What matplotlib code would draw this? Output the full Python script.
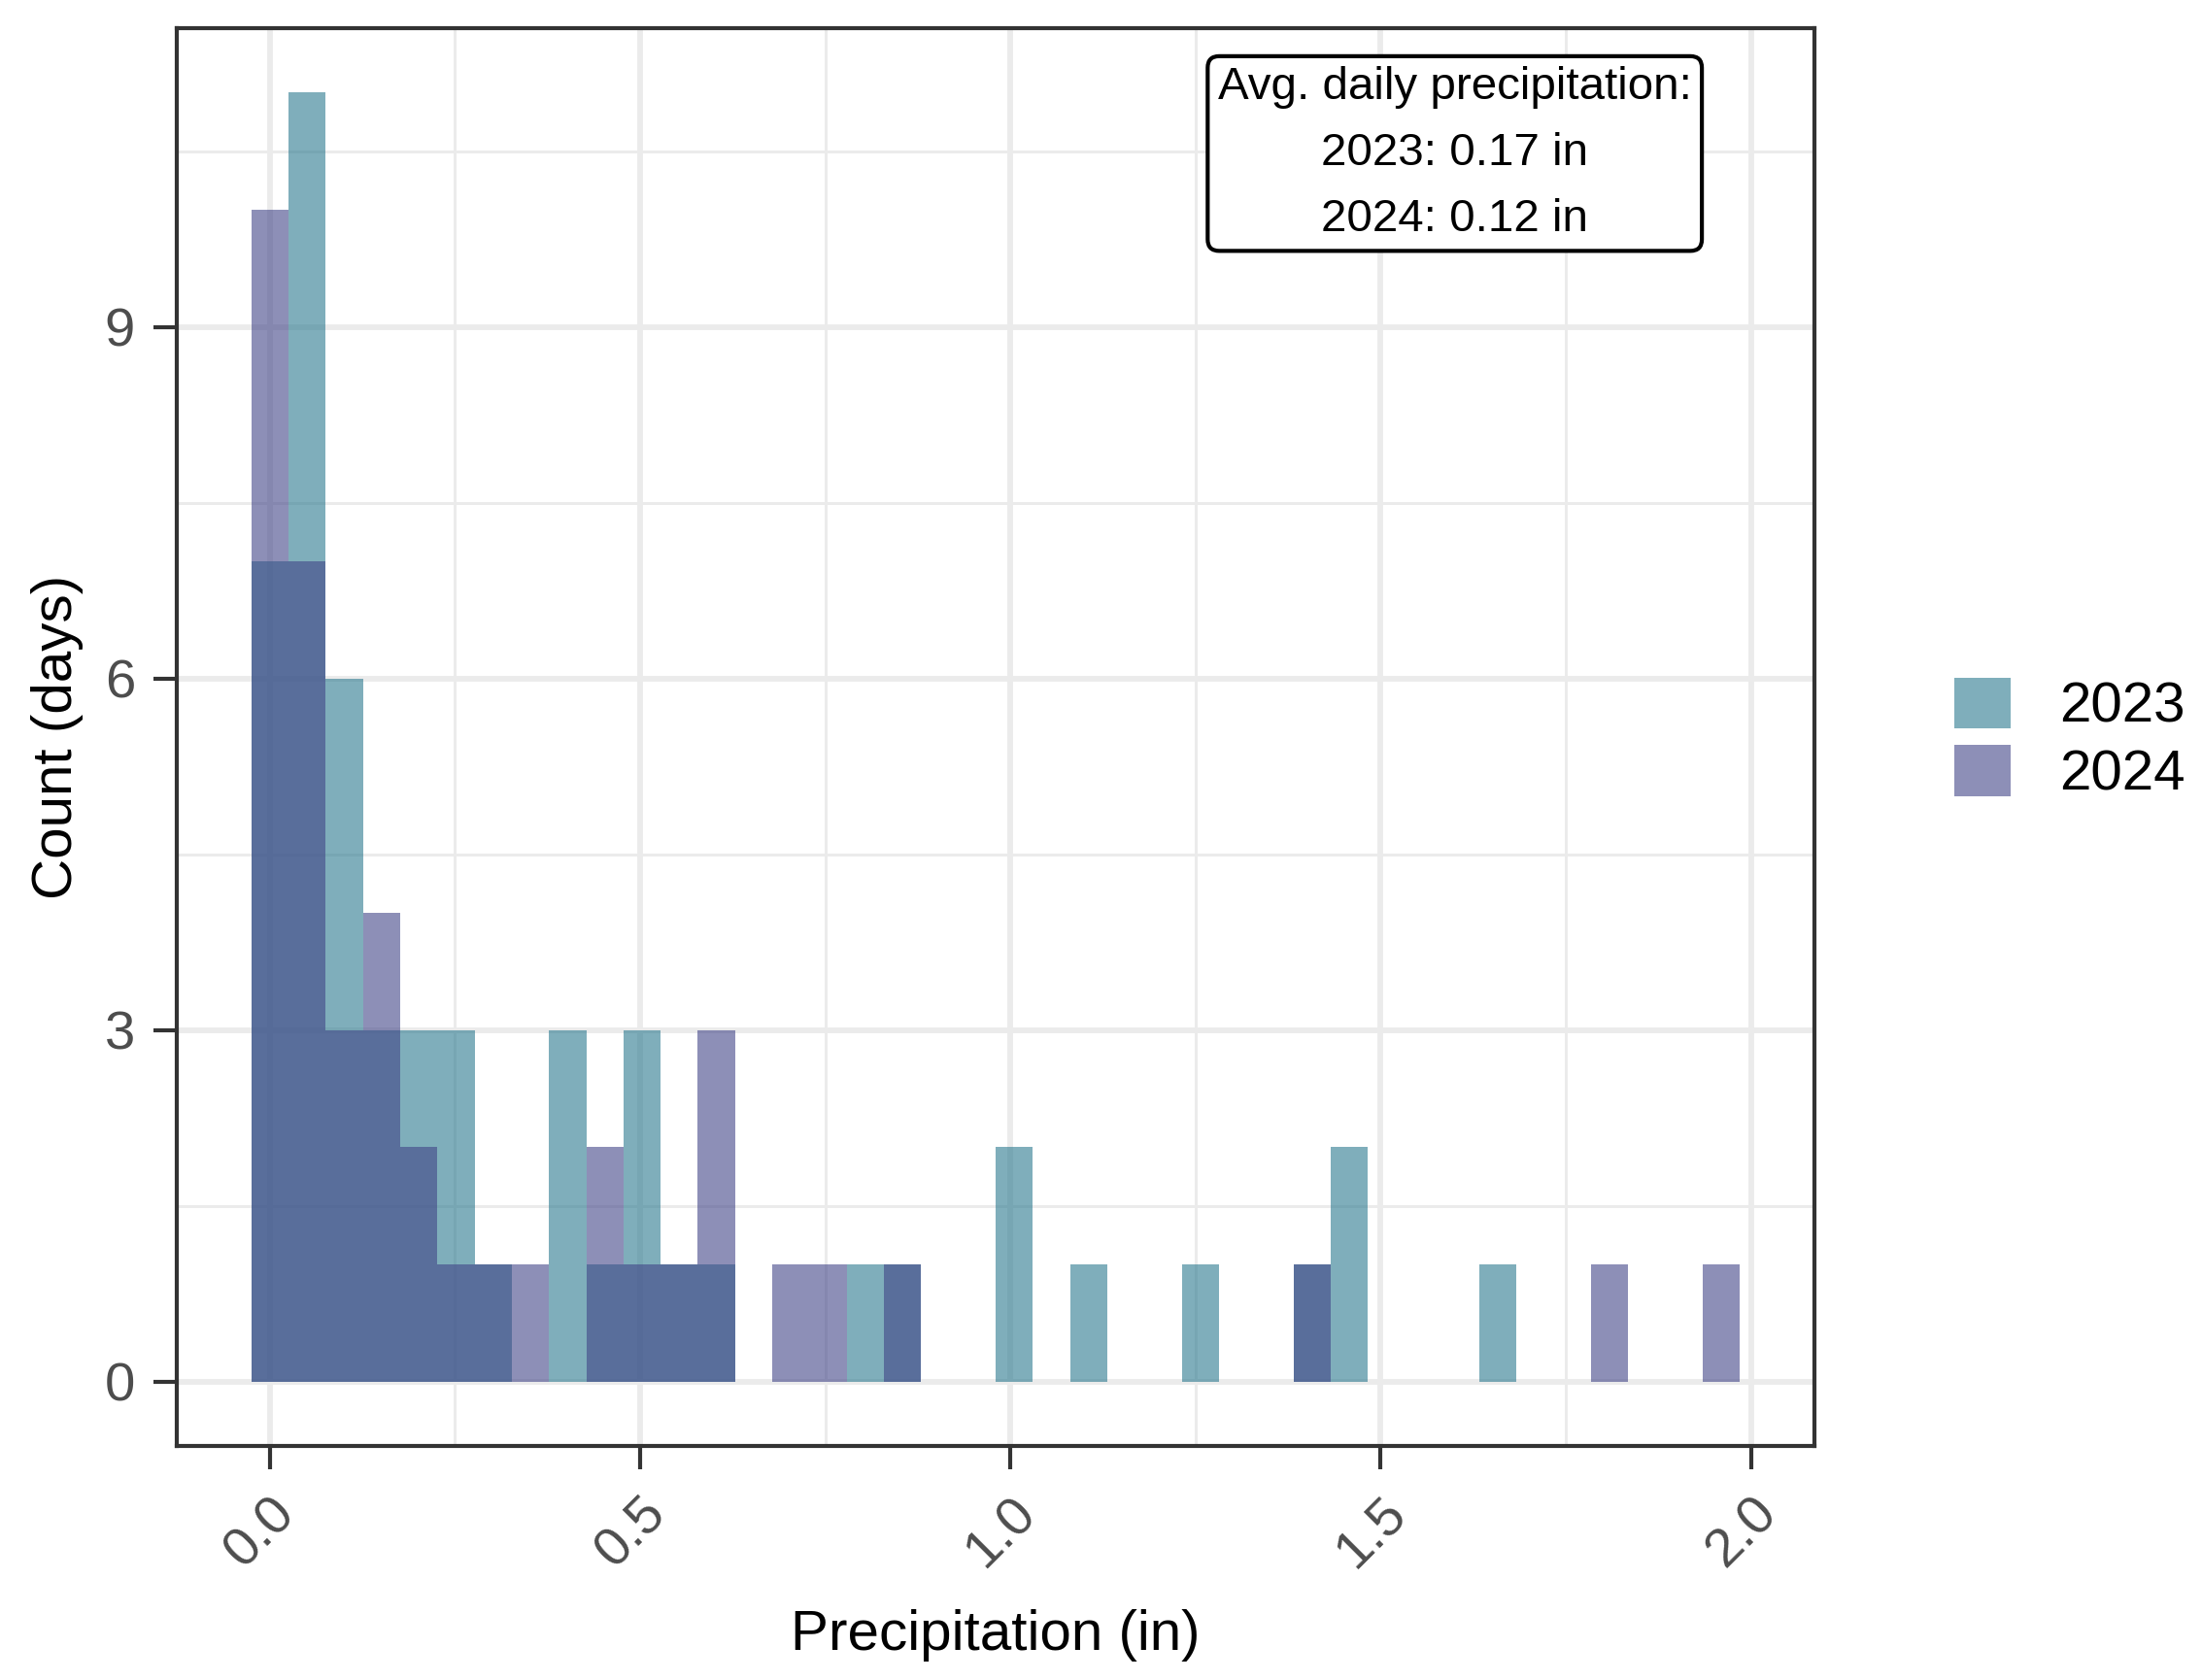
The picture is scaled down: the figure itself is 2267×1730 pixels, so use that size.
import numpy as np
import matplotlib
matplotlib.use("Agg")
import matplotlib.pyplot as plt
from matplotlib.patches import Patch

plt.rcParams['font.family'] = ['Liberation Sans', 'DejaVu Sans']

# ---- data (counts per histogram bin, 40 bins spanning 0 .. 1.96 in) ----
years = ["2023", "2024"]
n_bins = 40
precip_min = 0.0
precip_max = 1.96
counts_2023 = [7, 11, 6, 3, 3, 3, 1, 0, 3, 1,
               3, 1, 1, 0, 0, 0, 1, 1, 0, 0,
               2, 0, 1, 0, 0, 1, 0, 0, 1, 2,
               0, 0, 0, 1, 0, 0, 0, 0, 0, 0]
counts_2024 = [10, 7, 3, 4, 2, 1, 1, 1, 0, 2,
               1, 1, 3, 0, 1, 1, 0, 1, 0, 0,
               0, 0, 0, 0, 0, 0, 0, 0, 1, 0,
               0, 0, 0, 0, 0, 0, 1, 0, 0, 1]
avg_2023 = 0.17
avg_2024 = 0.12
x_ticks = [0.0, 0.5, 1.0, 1.5, 2.0]
y_ticks = [0, 3, 6, 9]

colors = {"2023": "#2A788E", "2024": "#414487"}
alpha = 0.6

# ggplot-style bins: centre of first bin at min, last at max
bw = (precip_max - precip_min) / (n_bins - 1)
centers = precip_min + bw * np.arange(n_bins)

W, H = 2267, 1730
dpi = 300
fig = plt.figure(figsize=(W / dpi, H / dpi), dpi=dpi)
L, R, T, B = 182, 1868, 29, 1489
ax = fig.add_axes([L / W, 1 - B / H, (R - L) / W, (B - T) / H])

for yr, cnt in zip(years, [counts_2023, counts_2024]):
    ax.bar(centers, cnt, width=bw, align='center', color=colors[yr],
           alpha=alpha, linewidth=0, zorder=3)

# axis ranges with 5% expansion like ggplot
xlo, xhi = centers[0] - bw / 2, centers[-1] + bw / 2
xr = xhi - xlo
ymax = max(max(counts_2023), max(counts_2024))
ax.set_xlim(xlo - 0.05 * xr, xhi + 0.05 * xr)
ax.set_ylim(-0.05 * ymax, ymax * 1.05)

ax.set_xticks(x_ticks)
ax.set_xticklabels([f"{v:.1f}" for v in x_ticks])
ax.set_yticks(y_ticks)
ax.set_yticklabels([str(v) for v in y_ticks])
ax.set_xticks([0.25, 0.75, 1.25, 1.75], minor=True)
ax.set_yticks([1.5, 4.5, 7.5, 10.5], minor=True)

ax.grid(which='major', color='#EBEBEB', linewidth=1.4, zorder=0)
ax.grid(which='minor', color='#EBEBEB', linewidth=0.7, zorder=0)
ax.set_axisbelow(True)

for s in ax.spines.values():
    s.set_color('#333333')
    s.set_linewidth(1.0)

ax.tick_params(which='major', length=5.8, width=1.0, color='#333333',
               labelcolor='#4D4D4D', labelsize=13.5)
ax.tick_params(which='minor', length=0)
ax.tick_params(axis='y', pad=4.5)
ax.tick_params(axis='x', pad=4.5)
for lab in ax.get_xticklabels():
    lab.set_rotation(45)
    lab.set_ha('right')
    lab.set_va('top')
    lab.set_rotation_mode('anchor')

ax.set_xlabel("Precipitation (in)", fontsize=14, color='black', labelpad=8)
ax.set_ylabel("Count (days)", fontsize=14, color='black', labelpad=5.3)

ax.text(1.6, 10.48,
        f"Avg. daily precipitation:\n{years[0]}: {avg_2023:.2f} in\n{years[1]}: {avg_2024:.2f} in",
        ha='center', va='center', fontsize=11.4, linespacing=1.7, zorder=5,
        bbox=dict(boxstyle='round,pad=0.22,rounding_size=0.25', facecolor='white',
                  edgecolor='black', linewidth=1.0))

handles = [Patch(facecolor=colors[y], alpha=alpha, edgecolor='none') for y in years]
fig.legend(handles, years, loc='center left', bbox_to_anchor=(2012 / W, 1 - 761.5 / H),
           frameon=False, fontsize=14, handlelength=1.0, handleheight=1.0,
           labelspacing=0.2, handletextpad=0.85, borderaxespad=0, borderpad=0)

fig.savefig("out.png", dpi=dpi)
